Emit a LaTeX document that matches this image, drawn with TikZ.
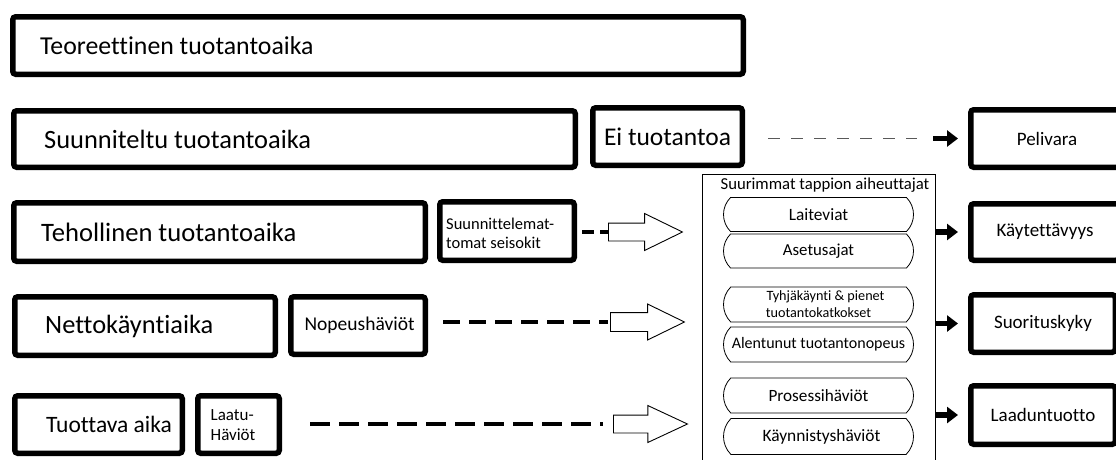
\documentclass[tikz,border=0pt]{standalone}
\usepackage{fontspec}
\setmainfont{Carlito}[Ligatures=NoCommon]
\usetikzlibrary{arrows.meta,shapes.arrows,shapes.misc}

\tikzset{
  frame/.style={draw, line width=5.5pt, rounded corners=3pt, inner sep=0pt},
  fsize/.style={font=\fontsize{#1}{30}\selectfont},
  lbl/.style={inner sep=0pt},
  cause/.style={draw, line width=0.8pt, rounded rectangle, rounded rectangle arc length=90,
    minimum width=190pt, minimum height=34pt, inner sep=0pt, align=center},
  hollow/.style={draw, line width=0.9pt, fill=white, single arrow, inner xsep=0pt,
    inner ysep=8.5pt, text height=0pt, text depth=0pt,
    minimum height=74pt, single arrow head extend=9.5pt,
    single arrow tip angle=52, anchor=tail},
  thickdash/.style={line width=4.5pt, dash pattern=on 17pt off 9pt},
  blk/.style={line width=5.5pt, -{Triangle[length=11pt,width=16pt]}},
  greydash/.style={line width=1.8pt, draw=black!65, dash pattern=on 12pt off 11pt},
}

\begin{document}
\begin{tikzpicture}[x=1pt,y=-1pt]
\useasboundingbox (0,0) rectangle (1116,459);
\clip (0,0) rectangle (1116,459);

% time layers (left column)
\node[frame, minimum width=730.5pt, minimum height=57.5pt] (teo) at (378,45.5) {};
\node[lbl, fsize=25.8, anchor=west] (teot) at ([xshift=30pt]teo.west) {Teoreettinen tuotantoaika};

\node[frame, minimum width=561.5pt, minimum height=56.5pt] (suu) at (294.5,139) {};
\node[lbl, fsize=26.4, anchor=west] (suut) at ([xshift=33pt]suu.west) {Suunniteltu tuotantoaika};

\node[frame, minimum width=411.5pt, minimum height=58.5pt] (teh) at (219.5,232) {};
\node[lbl, fsize=26.6, anchor=west] (teht) at ([xshift=30pt]teh.west) {Tehollinen tuotantoaika};

\node[frame, minimum width=260.5pt, minimum height=58.5pt] (net) at (145,326) {};
\node[lbl, fsize=26.4, anchor=west] (nett) at ([xshift=33pt]net.west) {Nettokäyntiaika};

\node[frame, minimum width=167.5pt, minimum height=57.5pt] (tuo) at (98.5,424.5) {};
\node[lbl, fsize=23.5, anchor=west] (tuot) at ([xshift=34pt]tuo.west) {Tuottava aika};

% losses next to each layer
\node[frame, fsize=25.5, minimum width=149.5pt, minimum height=57.5pt] (ei) at (667.5,136.5) {Ei tuotantoa};

\node[frame, minimum width=134.5pt, minimum height=58.5pt] (sei) at (507,231) {};
\node[lbl, anchor=west, align=left, font=\fontsize{16.5}{19}\selectfont] (seit)
  at ([xshift=9pt,yshift=-2pt]sei.west) {Suunnittelemat-\\tomat seisokit};

\node[frame, fsize=19.5, minimum width=134.5pt, minimum height=57.5pt] (nop) at (358,325.5) {\,Nopeushäviöt};

\node[frame, minimum width=81.5pt, minimum height=57.5pt] (laa) at (238.5,424.5) {};
\node[lbl, anchor=west, align=left, font=\fontsize{17}{20}\selectfont] (laat)
  at ([xshift=15.5pt,yshift=-1pt]laa.west) {Laatu-\\Häviöt};

% key figures (right column)
\node[frame, fsize=19, minimum width=152.5pt, minimum height=57.5pt] (pel) at (1047,138.5) {Pelivara};
\node[frame, fsize=19, minimum width=148.5pt, minimum height=56.5pt] (kay) at (1045,232) {Käytettävyys};
\node[frame, fsize=19, minimum width=144.5pt, minimum height=57.5pt] (suo) at (1043,323.5) {Suorituskyky};
\node[frame, fsize=19, minimum width=144.5pt, minimum height=58.5pt] (lad) at (1043,415) {Laaduntuotto};

% biggest loss causes
\node[draw, line width=1.3pt, minimum width=232.5pt, minimum height=305pt, inner sep=0pt] (los) at (819,327) {};
\node[inner sep=0pt, fsize=16.7] (lost) at (825,185) {Suurimmat tappion aiheuttajat};
\node[cause, fsize=17.3] (c1) at (818.5,214.5) {Laiteviat};
\node[cause, fsize=16.8] (c2) at (818.5,251) {Asetusajat};
\node[cause, font=\fontsize{14.2}{17}\selectfont, minimum height=35pt] (c3) at (818.5,304.5) {\hspace*{14pt}Tyhjäkäynti \& pienet\\tuotantokatkokset};
\node[cause, fsize=16, minimum height=35pt] (c4) at (818.5,344.5) {Alentunut tuotantonopeus};
\node[cause, fsize=17.2, minimum height=35pt] (c5) at (818.5,395.5) {Prosessihäviöt};
\node[cause, fsize=17.4, minimum height=36pt] (c6) at (818.5,436.5) {\hspace*{6pt}Käynnistyshäviöt};

% hollow arrows into the causes
\node[hollow] (a1) at (608,232) {};
\node[hollow, inner ysep=9pt, single arrow head extend=8.5pt] (a2) at (610,322) {};
\node[hollow, single arrow tip angle=50] (a3) at (613,424) {};

% dashed connectors
\draw[thickdash, dash pattern=on 12pt off 6pt, shorten <=5pt] (sei.east |- a1.tail) -- (a1.tail);
\draw[thickdash, shorten <=15pt, shorten >=2pt] (nop.east |- a2.tail) -- (a2.tail);
\draw[thickdash, dash pattern=on 20pt off 9pt, shorten <=28pt, shorten >=10pt] (laa.east |- a3.tail) -- (a3.tail);
\draw[greydash, shorten <=23pt, shorten >=51pt] (ei.east |- pel.west) -- (pel.west);

% black arrows to the key figures
\draw[blk, shorten >=10pt] ([xshift=-35pt]pel.west) -- (pel.west);
\draw[blk, shorten >=10pt] (los.east |- kay.west) -- (kay.west);
\draw[blk, shorten >=10pt] (los.east |- suo.west) -- (suo.west);
\draw[blk, shorten >=10pt] (los.east |- lad.west) -- (lad.west);
\end{tikzpicture}
\end{document}
